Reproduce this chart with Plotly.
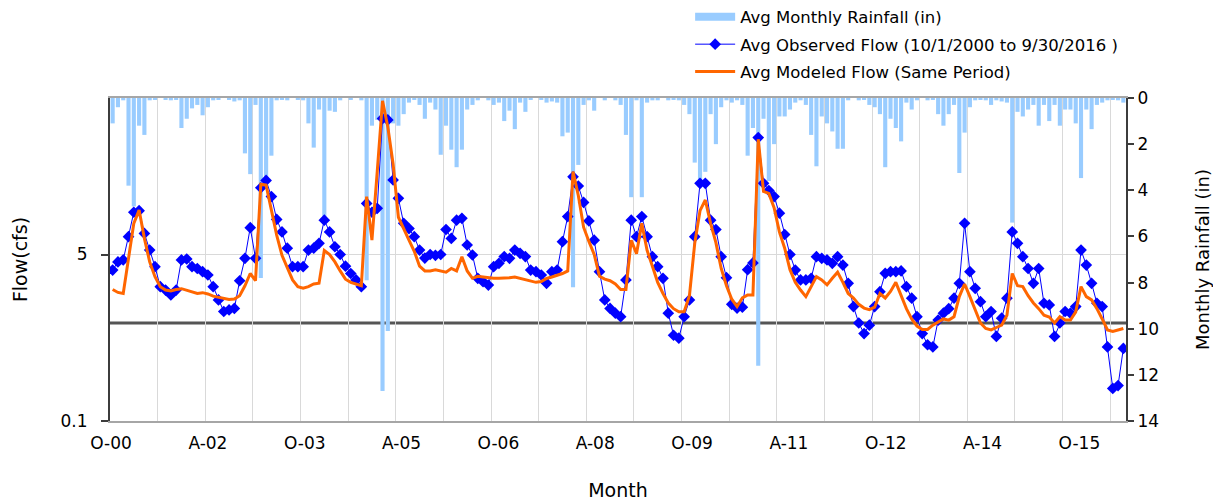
import plotly.graph_objects as go

# ---- data (monthly, Oct 2000 .. Sep 2016) ----
observed_flow = [
    3.47, 4.2, 4.4, 7.6, 13.5, 14.0, 8.2, 5.55, 3.76, 2.35, 2.17, 1.93,
    2.17, 4.4, 4.5, 3.76, 3.6, 3.34, 3.09, 2.35, 1.72, 1.31, 1.36, 1.41,
    2.7, 4.57, 9.4, 4.57, 24.0, 28.5, 19.5, 11.4, 8.5, 5.8, 3.76, 3.76,
    3.76, 5.55, 5.8, 6.5, 11.2, 8.5, 6.0, 5.0, 3.8, 3.2, 2.75, 2.35,
    16.6, 13.5, 14.8, 122.0, 118.0, 28.8, 18.7, 10.4, 9.2, 7.6, 5.55, 4.6,
    5.0, 4.9, 5.0, 9.0, 7.3, 11.2, 11.7, 6.25, 4.94, 2.86, 2.64, 2.44,
    3.76, 4.06, 4.76, 4.57, 5.55, 5.14, 4.76, 3.47, 3.34, 3.09, 2.54, 3.34,
    3.47, 6.76, 12.2, 31.0, 25.0, 17.0, 11.0, 7.0, 3.34, 1.72, 1.41, 1.26,
    1.16, 2.75, 11.2, 7.6, 12.2, 7.6, 4.75, 3.76, 2.86, 1.26, 0.75, 0.70,
    1.16, 1.72, 7.6, 26.6, 26.6, 11.2, 9.0, 4.75, 2.9, 1.55, 1.42, 1.45,
    3.5, 4.1, 78.0, 26.6, 22.5, 19.5, 13.2, 8.0, 5.0, 3.47, 2.75, 2.75,
    2.86, 4.75, 4.57, 4.4, 4.06, 4.75, 3.9, 2.54, 1.47, 1.0, 0.78, 0.95,
    1.47, 2.09, 3.21, 3.34, 3.34, 3.4, 2.35, 1.79, 1.16, 0.78, 0.60, 0.57,
    1.07, 1.26, 1.4, 1.79, 2.54, 10.4, 3.34, 2.26, 1.65, 1.16, 1.31, 0.73,
    1.12, 1.79, 8.5, 6.5, 4.75, 3.6, 2.54, 3.6, 1.59, 1.53, 0.73, 1.0,
    1.31, 1.26, 1.47, 5.55, 3.9, 2.54, 1.59, 1.47, 0.57, 0.215, 0.23, 0.55,
]

modeled_flow = [
    2.2, 2.05, 2.0, 4.8, 10.4, 14.2, 7.3, 4.2, 2.97, 2.35, 2.17, 2.12,
    2.2, 2.24, 2.17, 2.09, 2.0, 2.04, 1.98, 1.88, 1.83, 1.79, 1.74, 1.76,
    1.9, 2.4, 3.2, 2.7, 26.0, 25.5, 13.7, 7.9, 4.9, 3.6, 2.75, 2.35,
    2.26, 2.35, 2.5, 2.55, 5.5, 5.0, 4.2, 3.4, 2.8, 2.6, 2.5, 2.4,
    19.5, 7.0, 35.0, 185.0, 100.0, 42.0, 12.0, 9.0, 7.0, 5.4, 3.8, 3.4,
    3.4, 3.5, 3.4, 3.3, 3.6, 3.4, 4.75, 3.4, 2.86, 3.0, 2.95, 2.9,
    2.86, 2.86, 2.86, 2.9, 2.95, 2.86, 2.8, 2.7, 2.6, 2.65, 2.85, 2.95,
    3.05, 3.2, 3.4, 35.0, 20.0, 9.5, 6.8, 5.0, 3.0, 2.8, 2.7, 2.5,
    2.2, 2.2, 7.0, 5.1, 10.4, 5.5, 3.8, 2.6, 2.0, 1.6, 1.4, 1.3,
    1.3, 1.9, 6.5, 14.0, 18.0, 10.4, 6.6, 3.6, 2.4, 1.75, 1.47, 1.8,
    1.93, 1.93, 75.0, 22.0, 21.0, 15.0, 8.5, 5.8, 3.5, 2.6, 2.17, 1.86,
    2.35, 2.97, 2.75, 2.45, 2.86, 3.3, 2.6, 2.0, 1.8, 1.55, 1.42, 1.37,
    1.45, 2.0, 1.8, 2.1, 2.6, 1.95, 1.4, 1.1, 0.93, 0.86, 0.86, 0.95,
    1.03, 1.1, 1.07, 1.16, 1.86, 2.5, 1.86, 1.36, 1.0, 0.88, 0.85, 0.9,
    0.95, 1.2, 3.2, 2.4, 2.35, 1.9, 1.6, 1.4, 1.2, 1.15, 1.0, 1.16,
    1.07, 1.07, 1.3, 2.35, 1.86, 1.72, 1.4, 1.1, 0.85, 0.82, 0.85, 0.88,
]

monthly_rainfall = [
    1.1, 0.4, 0.1, 3.8, 4.7, 1.2, 1.6, 0.1, 0.05, 0.0, 0.05, 0.1,
    0.05, 1.3, 0.9, 0.45, 0.3, 0.75, 0.4, 0.1, 0.05, 0.0, 0.05, 0.15,
    0.1, 2.4, 3.3, 0.3, 7.8, 3.7, 2.5, 0.1, 0.05, 0.1, 0.0, 0.05,
    0.1, 1.1, 2.15, 0.5, 5.3, 0.55, 0.6, 0.1, 0.0, 0.05, 0.0, 0.1,
    7.9, 1.2, 0.95, 12.7, 10.1, 1.1, 1.2, 0.7, 0.2, 0.05, 0.3, 0.9,
    0.2, 0.5, 2.46, 1.2, 2.24, 3.0, 2.24, 0.5, 0.3, 0.1, 0.0, 0.1,
    0.3, 0.2, 1.0, 0.55, 1.35, 0.2, 0.6, 0.05, 0.0, 0.05, 0.2, 0.15,
    0.2, 1.66, 1.5, 8.2, 2.9, 0.3, 0.1, 0.55, 0.0, 0.1, 0.0, 0.1,
    0.3, 1.6, 4.3, 0.1, 4.3, 0.2, 0.1, 0.1, 0.0, 0.1, 0.05, 0.1,
    0.3, 0.7, 2.8, 3.8, 3.2, 0.7, 2.0, 0.4, 0.1, 0.2, 0.1, 0.3,
    2.5, 1.3, 11.6, 0.9, 3.6, 2.0, 0.8, 0.8, 0.5, 0.2, 0.1, 0.3,
    1.6, 2.96, 0.8, 1.1, 1.45, 2.2, 2.2, 0.1, 0.0, 0.1, 0.05, 0.3,
    0.4, 0.7, 3.0, 0.9, 1.3, 1.88, 0.2, 0.5, 0.1, 0.0, 0.1, 0.05,
    0.7, 1.2, 0.7, 0.3, 3.25, 1.5, 0.4, 0.1, 0.05, 0.1, 0.3, 0.1,
    0.15, 0.2, 5.4, 0.6, 0.8, 0.5, 0.3, 1.2, 0.3, 1.0, 0.3, 1.2,
    0.5, 0.5, 1.1, 3.47, 0.5, 1.35, 0.3, 0.2, 0.1, 0.05, 0.1, 0.2,
]

month_index = list(range(len(observed_flow)))
x_tick_labels = ["O-00", "A-02", "O-03", "A-05", "O-06", "A-08",
                 "O-09", "A-11", "O-12", "A-14", "O-15"]
flow_tick_values = [0.1, 5]
rain_tick_values = [0, 2, 4, 6, 8, 10, 12, 14]

# ---- styling ----
FONT = "DejaVu Sans"
BAR_COLOR = "#99CCFF"
OBS_COLOR = "#0000FF"
MOD_COLOR = "#FF6600"
GRID_COLOR = "#D9D9D9"
AXIS_DARK = "#3C3C3C"

n = len(month_index)
label_step = 18.3           # label spacing (months) as drawn in the original
grid_step = 9               # vertical gridlines every 9 months
label_pos = [k * label_step - 0.3 for k in range(len(x_tick_labels))]
grid_pos = [k * grid_step - 0.5 for k in range(1, n // grid_step + 1)]

fig = go.Figure()

fig.add_trace(go.Bar(
    x=month_index, y=monthly_rainfall, yaxis="y",
    marker=dict(color=BAR_COLOR, line=dict(width=0)),
    showlegend=False, name="Avg Monthly Rainfall (in)",
))
# legend entry for rainfall (wide light-blue swatch like the original)
fig.add_trace(go.Scatter(
    x=[None], y=[None], yaxis="y", mode="lines",
    line=dict(color=BAR_COLOR, width=8),
    name="Avg Monthly Rainfall (in)", legendgroup="a",
))
fig.add_trace(go.Scatter(
    x=month_index, y=observed_flow, yaxis="y2", mode="lines+markers",
    line=dict(color=OBS_COLOR, width=1),
    marker=dict(symbol="diamond", size=9, color=OBS_COLOR),
    name="Avg Observed Flow (10/1/2000 to 9/30/2016 )", legendgroup="b",
))
fig.add_trace(go.Scatter(
    x=month_index, y=modeled_flow, yaxis="y2", mode="lines",
    line=dict(color=MOD_COLOR, width=3),
    name="Avg Modeled Flow (Same Period)", legendgroup="c",
))

shapes = [dict(type="line", xref="paper", x0=0, x1=1, yref="y2", y0=1, y1=1,
               line=dict(color="#555555", width=3), layer="below")]
for gx in grid_pos:
    shapes.append(dict(type="line", xref="x", x0=gx, x1=gx, yref="y2",
                       ysizemode="pixel", yanchor=1, y0=0, y1=-6,
                       line=dict(color="#555555", width=1.5)))

fig.update_layout(
    width=1213, height=501,
    margin=dict(l=110, r=87, t=98, b=80, autoexpand=False),
    paper_bgcolor="white", plot_bgcolor="white",
    font=dict(family=FONT, size=17, color="#000000"),
    bargap=0.22,
    shapes=shapes,
    xaxis=dict(
        range=[-0.5, n - 0.5], automargin=False,
        tickmode="array", tickvals=label_pos, ticktext=x_tick_labels,
        ticks="outside", ticklen=6, tickcolor="rgba(0,0,0,0)",
        showgrid=False, zeroline=False,
        showline=True, linecolor="#A6A6A6", linewidth=2, mirror=True,
        minor=dict(tickmode="array", tickvals=grid_pos, showgrid=True,
                   gridcolor=GRID_COLOR, gridwidth=1, ticks=""),
        title=dict(text="Month", standoff=34, font=dict(size=19)),
        tickfont=dict(size=17),
    ),
    yaxis=dict(
        side="right", range=[14, 0], automargin=False,
        tickmode="array", tickvals=rain_tick_values,
        ticks="outside", ticklen=6, tickcolor=AXIS_DARK, tickwidth=1.5,
        showgrid=False, zeroline=False,
        showline=True, linecolor=AXIS_DARK, linewidth=2,
        title=dict(text="Monthly Rainfall (in)", standoff=38, font=dict(size=18)),
        tickfont=dict(size=17),
    ),
    yaxis2=dict(
        overlaying="y", side="left", type="log", range=[-1, 2.296],
        automargin=False,
        tickmode="array", tickvals=flow_tick_values,
        ticktext=[str(v) for v in flow_tick_values],
        ticks="outside", ticklen=7, tickcolor=AXIS_DARK, tickwidth=1.5,
        ticklabelstandoff=10,
        showgrid=True, gridcolor=GRID_COLOR, gridwidth=1, zeroline=False,
        showline=True, linecolor=AXIS_DARK, linewidth=2,
        title=dict(text="Flow(cfs)", standoff=28, font=dict(size=19)),
        tickfont=dict(size=17),
    ),
    legend=dict(
        x=0.571, y=1.305, xanchor="left", yanchor="top",
        bgcolor="rgba(0,0,0,0)", font=dict(size=16.5),
        traceorder="grouped", tracegroupgap=3, itemwidth=40,
    ),
)

fig.write_html("out.html")
